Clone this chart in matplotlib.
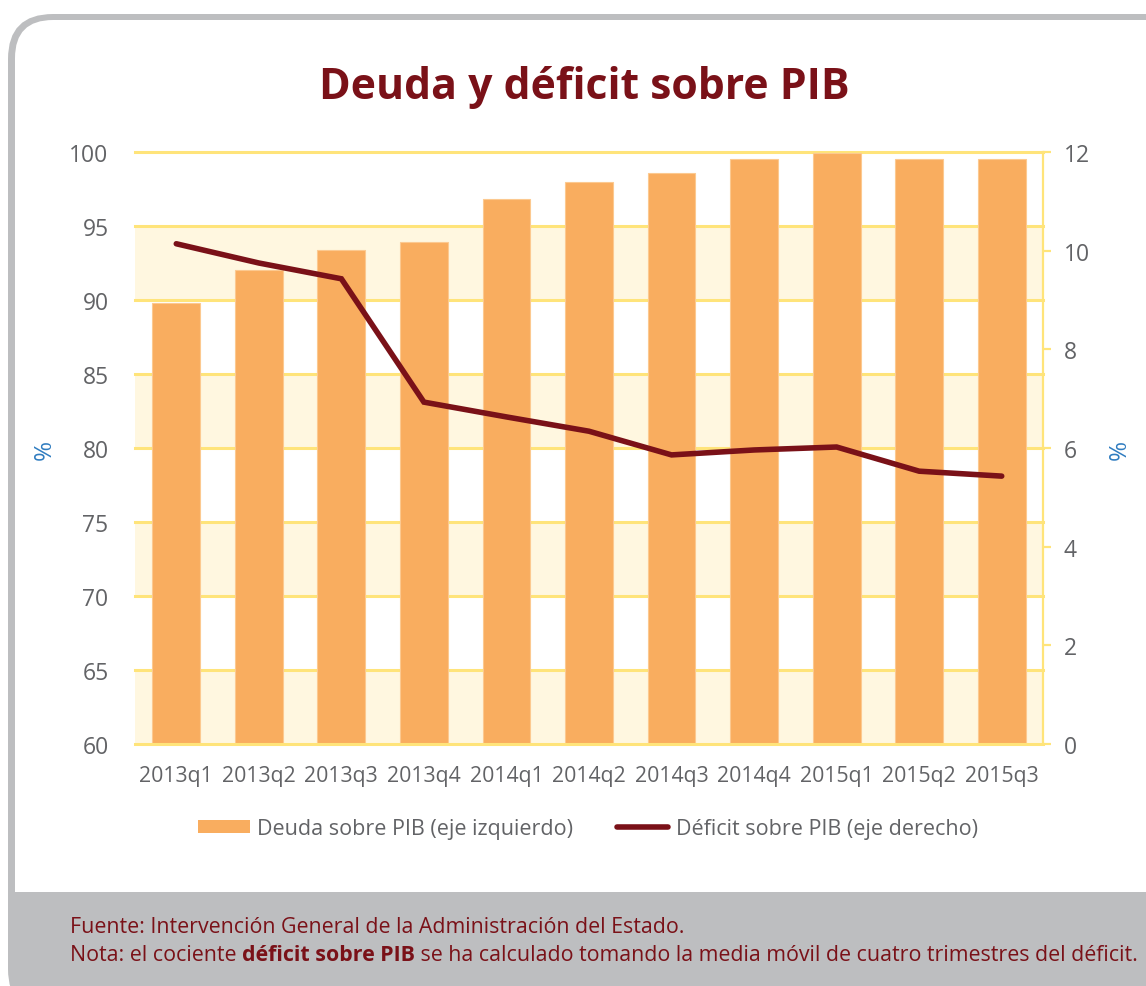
import matplotlib
matplotlib.use("Agg")
import matplotlib.pyplot as plt
from matplotlib.patches import FancyBboxPatch, Rectangle, Patch
from matplotlib.lines import Line2D

plt.rcParams['font.family'] = ['Open Sans', 'DejaVu Sans']

# ---- data ----
quarters = ["2013q1", "2013q2", "2013q3", "2013q4", "2014q1", "2014q2",
            "2014q3", "2014q4", "2015q1", "2015q2", "2015q3"]
deuda = [89.8, 92.0, 93.4, 93.9, 96.8, 98.0, 98.6, 99.5, 99.9, 99.5, 99.5]
deficit = [10.14, 9.75, 9.43, 6.93, 6.63, 6.34, 5.86, 5.96, 6.02, 5.53, 5.43]
left_ticks = [60, 65, 70, 75, 80, 85, 90, 95, 100]
right_ticks = [0, 2, 4, 6, 8, 10, 12]
band_ranges = [(60, 65), (70, 75), (80, 85), (90, 95)]

title = "Deuda y déficit sobre PIB"
label_bar = "Deuda sobre PIB (eje izquierdo)"
label_line = "Déficit sobre PIB (eje derecho)"
fuente = "Fuente: Intervención General de la Administración del Estado."
nota_parts = ["Nota: el cociente ", "déficit sobre PIB",
              " se ha calculado tomando la media móvil de cuatro trimestres del déficit."]

# ---- colours ----
BAR = "#F9AD5F"
LINE = "#7A1118"
YEL = "#FFE47A"
BAND = "#FFF7E0"
GRAY_TXT = "#626366"
FRAME = "#BDBEC0"
RED_TXT = "#7A1118"
BLUE = "#2F7CC0"

W, H = 1146, 987
fig = plt.figure(figsize=(W / 100, H / 100), dpi=100)

# background frame
bg = fig.add_axes([0, 0, 1, 1])
bg.set_xlim(0, W)
bg.set_ylim(H, 0)
bg.axis("off")
bg.add_patch(FancyBboxPatch((8, 15), 1400, 1000, boxstyle="round,pad=0,rounding_size=45",
                            fc=FRAME, ec="none"))
bg.add_patch(FancyBboxPatch((15, 21), 1400, 930, boxstyle="round,pad=0,rounding_size=38",
                            fc="white", ec="none"))
bg.add_patch(Rectangle((15, 893), 1400, 60, fc=FRAME, ec="none"))

# main axes
x0, x1, ytop, ybot = 135, 1043, 153, 745
ax = fig.add_axes([x0 / W, (H - ybot) / H, (x1 - x0) / W, (ybot - ytop) / H])
ax.set_facecolor("none")
xs = list(range(len(quarters)))

for lo, hi in band_ranges:
    ax.axhspan(lo, hi, color=BAND, lw=0, zorder=0)
for v in left_ticks[1:]:
    ax.axhline(v, color=YEL, lw=2.2, zorder=1, clip_on=False)

ax.bar(xs, deuda, width=0.58, bottom=0, color=BAR, edgecolor="#FCC990", lw=0.8, zorder=2)
ax.set_ylim(60, 100)
ax.set_xlim(-0.5, len(quarters) - 0.5)
ax.set_yticks(left_ticks)
ax.set_xticks(xs)
ax.set_xticklabels(quarters)
ax.tick_params(axis="y", length=0, pad=19, labelsize=16.5, labelcolor=GRAY_TXT)
ax.tick_params(axis="x", length=0, pad=15, labelsize=15.3, labelcolor=GRAY_TXT)
for s in ["left", "right", "top"]:
    ax.spines[s].set_visible(False)
ax.spines["bottom"].set_color(YEL)
ax.spines["bottom"].set_linewidth(2.2)
ax.spines["bottom"].set_zorder(3)

ax2 = ax.twinx()
ax2.plot(xs, deficit, color=LINE, lw=4, solid_capstyle="round", solid_joinstyle="miter", zorder=5)
ax2.set_ylim(0, 12)
ax2.set_yticks(right_ticks)
ax2.tick_params(axis="y", direction="out", length=6, width=1.6, color=YEL, pad=9,
                labelsize=16.5, labelcolor=GRAY_TXT)
for s in ["left", "top", "bottom"]:
    ax2.spines[s].set_visible(False)
ax2.spines["right"].set_color(YEL)
ax2.spines["right"].set_linewidth(1.6)

# % labels
fig.text(45 / W, 1 - 450 / H, "%", rotation=90, color=BLUE, fontsize=17.5, ha="center", va="center")
fig.text(1120 / W, 1 - 450 / H, "%", rotation=90, color=BLUE, fontsize=17.5, ha="center", va="center")

# title
fig.text(584 / W, 1 - 88 / H, title, fontsize=30.8, fontweight="bold", color=RED_TXT,
         ha="center", va="center")

# legend
handles = [Patch(facecolor=BAR, edgecolor="none", label=label_bar),
           Line2D([0], [0], color=LINE, lw=4, solid_capstyle="round", label=label_line)]
fig.legend(handles=handles, loc="center", bbox_to_anchor=(588 / W, 1 - 830 / H), ncol=2,
           frameon=False, fontsize=15.5, handlelength=2.4, handleheight=0.55, handletextpad=0.35,
           columnspacing=2.0, labelcolor=GRAY_TXT)

# footer
fs = 15.4
fig.text(70 / W, 1 - 928 / H, fuente, fontsize=fs, color=RED_TXT, ha="left", va="center")
t1 = fig.text(70 / W, 1 - 956 / H, nota_parts[0], fontsize=fs, color=RED_TXT, ha="left", va="center")
t2 = bg.annotate(nota_parts[1], xy=(1, 0), xycoords=t1, ha="left", va="bottom",
                 fontsize=fs, color=RED_TXT, fontweight="bold")
bg.annotate(nota_parts[2], xy=(1, 0), xycoords=t2, ha="left", va="bottom",
            fontsize=fs, color=RED_TXT)

fig.savefig("out.png", dpi=100)
